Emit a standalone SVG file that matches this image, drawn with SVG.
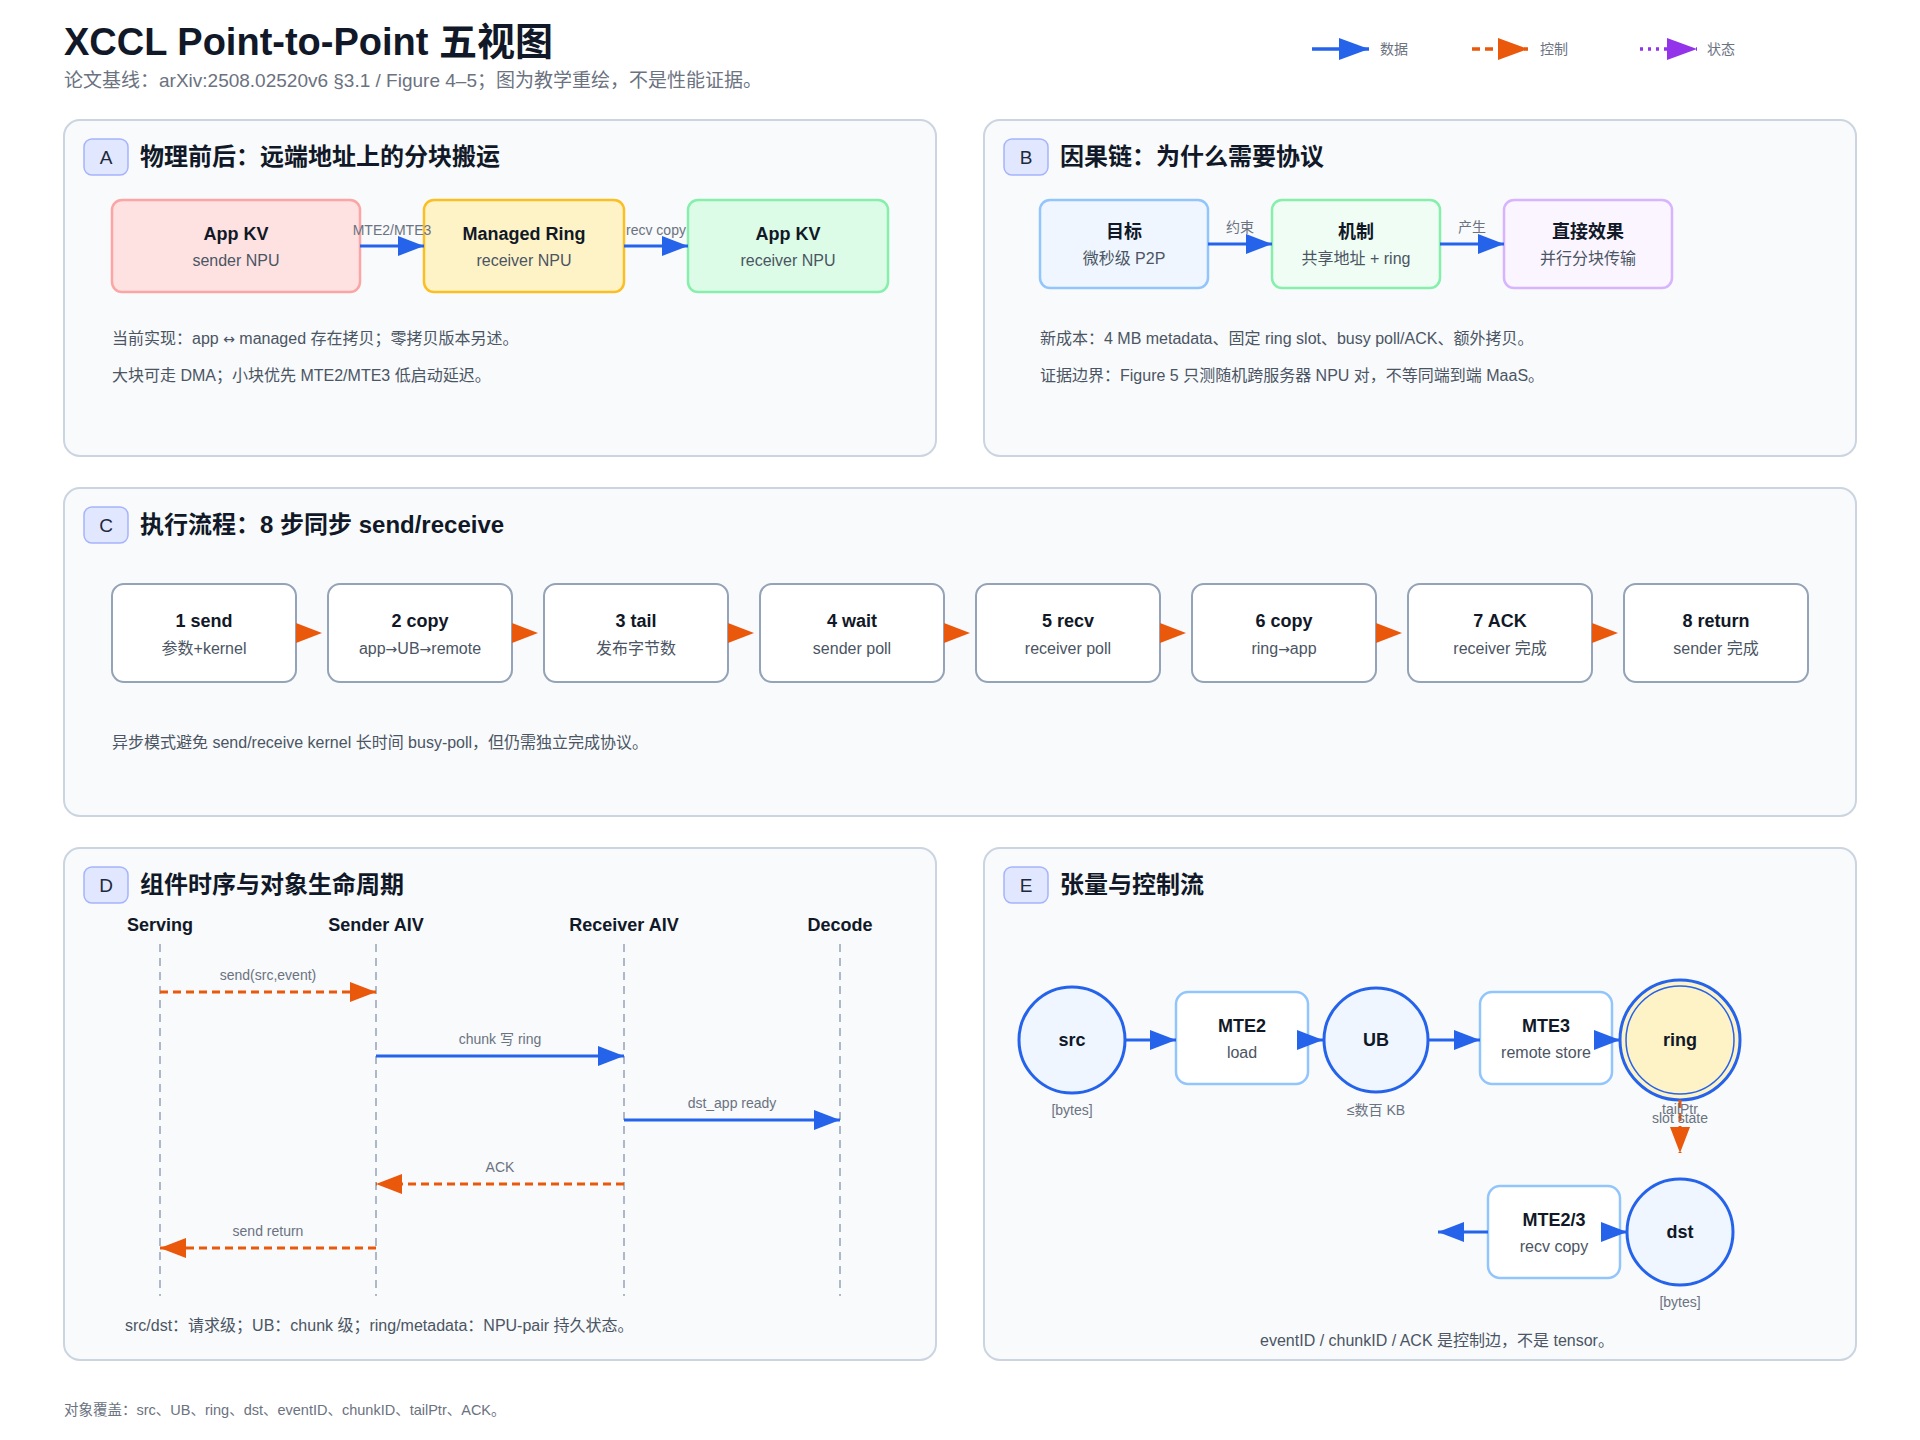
<svg xmlns="http://www.w3.org/2000/svg" width="1920" height="1440" viewBox="0 0 1920 1440">
<style>
text{font-family:'Liberation Sans',Arial,'Noto Sans CJK SC',sans-serif}
.ar{font-family:'DejaVu Sans','Noto Sans CJK SC',sans-serif;font-size:14px}
.h1{font-size:38px;font-weight:700;fill:#111827}
.sub{font-size:19px;fill:#6b7280}
.leg{font-size:14px;fill:#6b7280}
.foot{font-size:14.5px;fill:#6b7280}
.panel{fill:#f8fafc;stroke:#cbd5e1;stroke-width:2}
.badge{fill:#e0e7ff;stroke:#a5b4fc;stroke-width:1.5}
.bt{font-size:19px;fill:#1e293b;text-anchor:middle}
.pt{font-size:24px;font-weight:700;fill:#111827}
.nt{font-size:18px;font-weight:700;fill:#111827;text-anchor:middle}
.ns{font-size:16px;fill:#4b5563;text-anchor:middle}
.note{font-size:16px;fill:#4b5563}
.el{font-size:14px;fill:#6b7280;text-anchor:middle}
.lh{font-size:18px;font-weight:700;fill:#111827;text-anchor:middle}
.data{stroke:#2563eb;stroke-width:3;fill:none;marker-end:url(#ah-b)}
.ctrl{stroke:#ea580c;stroke-width:3;stroke-dasharray:8 5;fill:none;marker-end:url(#ah-o)}
.life{stroke:#94a3b8;stroke-width:1.5;stroke-dasharray:8 6;fill:none}
.step{fill:#ffffff;stroke:#94a3b8;stroke-width:2}
.ebox{fill:#ffffff;stroke:#93c5fd;stroke-width:2.5}
.circ{fill:#eff6ff;stroke:#2563eb;stroke-width:3}
.ct{font-size:18px;font-weight:700;fill:#111827;text-anchor:middle}
</style>
<defs>
<marker id="ah-b" markerUnits="userSpaceOnUse" markerWidth="26" markerHeight="20" viewBox="0 0 26 20" refX="26" refY="10" orient="auto"><path d="M0,0 L26,10 L0,20 Z" fill="#2563eb"/></marker>
<marker id="ah-o" markerUnits="userSpaceOnUse" markerWidth="26" markerHeight="20" viewBox="0 0 26 20" refX="26" refY="10" orient="auto"><path d="M0,0 L26,10 L0,20 Z" fill="#ea580c"/></marker>
<marker id="lg-b" markerUnits="userSpaceOnUse" markerWidth="30" markerHeight="22" viewBox="0 0 30 22" refX="30" refY="11" orient="auto"><path d="M0,0 L30,11 L0,22 Z" fill="#2563eb"/></marker>
<marker id="lg-o" markerUnits="userSpaceOnUse" markerWidth="30" markerHeight="22" viewBox="0 0 30 22" refX="30" refY="11" orient="auto"><path d="M0,0 L30,11 L0,22 Z" fill="#ea580c"/></marker>
<marker id="lg-p" markerUnits="userSpaceOnUse" markerWidth="30" markerHeight="22" viewBox="0 0 30 22" refX="30" refY="11" orient="auto"><path d="M0,0 L30,11 L0,22 Z" fill="#9333ea"/></marker>
</defs>
<rect width="1920" height="1440" fill="#ffffff"/>

<g id="header">
<text class="h1" x="64" y="55">XCCL Point-to-Point 五视图</text>
<text class="sub" x="64" y="87">论文基线：arXiv:2508.02520v6 §3.1 / Figure 4–5；图为教学重绘，不是性能证据。</text>
</g>

<g id="legend">
<line x1="1312" y1="49" x2="1369" y2="49" stroke="#2563eb" stroke-width="3.5" marker-end="url(#lg-b)"/>
<text class="leg" x="1380" y="54">数据</text>
<line x1="1472" y1="49" x2="1528" y2="49" stroke="#ea580c" stroke-width="3.5" stroke-dasharray="8 5" marker-end="url(#lg-o)"/>
<text class="leg" x="1540" y="54">控制</text>
<line x1="1640" y1="49" x2="1697" y2="49" stroke="#9333ea" stroke-width="3.5" stroke-dasharray="3 5" marker-end="url(#lg-p)"/>
<text class="leg" x="1707" y="54">状态</text>
</g>

<g id="panel-A">
<rect class="panel" x="64" y="120" width="872" height="336" rx="16"/>
<rect class="badge" x="84" y="139" width="44" height="36" rx="8"/>
<text class="bt" x="106" y="164">A</text>
<text class="pt" x="140" y="165">物理前后：远端地址上的分块搬运</text>
<text class="note" x="112" y="344">当前实现：app <tspan class="ar">↔</tspan> managed 存在拷贝；零拷贝版本另述。</text>
<text class="note" x="112" y="381">大块可走 DMA；小块优先 MTE2/MTE3 低启动延迟。</text>
</g>
<g id="panel-B">
<rect class="panel" x="984" y="120" width="872" height="336" rx="16"/>
<rect class="badge" x="1004" y="139" width="44" height="36" rx="8"/>
<text class="bt" x="1026" y="164">B</text>
<text class="pt" x="1060" y="165">因果链：为什么需要协议</text>
<text class="note" x="1040" y="344">新成本：4 MB metadata、固定 ring slot、busy poll/ACK、额外拷贝。</text>
<text class="note" x="1040" y="381">证据边界：Figure 5 只测随机跨服务器 NPU 对，不等同端到端 MaaS。</text>
</g>
<g id="panel-C">
<rect class="panel" x="64" y="488" width="1792" height="328" rx="16"/>
<rect class="badge" x="84" y="507" width="44" height="36" rx="8"/>
<text class="bt" x="106" y="532">C</text>
<text class="pt" x="140" y="533">执行流程：8 步同步 send/receive</text>
<text class="note" x="112" y="748">异步模式避免 send/receive kernel 长时间 busy-poll，但仍需独立完成协议。</text>
</g>
<g id="panel-D">
<rect class="panel" x="64" y="848" width="872" height="512" rx="16"/>
<rect class="badge" x="84" y="867" width="44" height="36" rx="8"/>
<text class="bt" x="106" y="892">D</text>
<text class="pt" x="140" y="893">组件时序与对象生命周期</text>
<text class="note" x="125" y="1331">src/dst：请求级；UB：chunk 级；ring/metadata：NPU-pair 持久状态。</text>
</g>
<g id="panel-E">
<rect class="panel" x="984" y="848" width="872" height="512" rx="16"/>
<rect class="badge" x="1004" y="867" width="44" height="36" rx="8"/>
<text class="bt" x="1026" y="892">E</text>
<text class="pt" x="1060" y="893">张量与控制流</text>
<text class="note" x="1437" y="1346" text-anchor="middle">eventID / chunkID / ACK 是控制边，不是 tensor。</text>
</g>

<g id="a-appkv-send">
<rect x="112" y="200" width="248" height="92" rx="10" fill="#fee2e2" stroke="#fca5a5" stroke-width="2.5"/>
<text class="nt" x="236" y="240">App KV</text>
<text class="ns" x="236" y="266">sender NPU</text>
</g>
<g id="a-ring">
<rect x="424" y="200" width="200" height="92" rx="10" fill="#fef3c7" stroke="#fbbf24" stroke-width="2.5"/>
<text class="nt" x="524" y="240">Managed Ring</text>
<text class="ns" x="524" y="266">receiver NPU</text>
</g>
<g id="a-appkv-recv">
<rect x="688" y="200" width="200" height="92" rx="10" fill="#dcfce7" stroke="#86efac" stroke-width="2.5"/>
<text class="nt" x="788" y="240">App KV</text>
<text class="ns" x="788" y="266">receiver NPU</text>
</g>

<g id="b-goal">
<rect x="1040" y="200" width="168" height="88" rx="10" fill="#eff6ff" stroke="#93c5fd" stroke-width="2.5"/>
<text class="nt" x="1124" y="238">目标</text>
<text class="ns" x="1124" y="264">微秒级 P2P</text>
</g>
<g id="b-mech">
<rect x="1272" y="200" width="168" height="88" rx="10" fill="#f0fdf4" stroke="#86efac" stroke-width="2.5"/>
<text class="nt" x="1356" y="238">机制</text>
<text class="ns" x="1356" y="264">共享地址 + ring</text>
</g>
<g id="b-effect">
<rect x="1504" y="200" width="168" height="88" rx="10" fill="#faf5ff" stroke="#d8b4fe" stroke-width="2.5"/>
<text class="nt" x="1588" y="238">直接效果</text>
<text class="ns" x="1588" y="264">并行分块传输</text>
</g>

<g id="c-s1"><rect class="step" x="112" y="584" width="184" height="98" rx="12"/><text class="nt" x="204" y="627">1 send</text><text class="ns" x="204" y="654">参数+kernel</text></g>
<g id="c-s2"><rect class="step" x="328" y="584" width="184" height="98" rx="12"/><text class="nt" x="420" y="627">2 copy</text><text class="ns" x="420" y="654">app<tspan class="ar">→</tspan>UB<tspan class="ar">→</tspan>remote</text></g>
<g id="c-s3"><rect class="step" x="544" y="584" width="184" height="98" rx="12"/><text class="nt" x="636" y="627">3 tail</text><text class="ns" x="636" y="654">发布字节数</text></g>
<g id="c-s4"><rect class="step" x="760" y="584" width="184" height="98" rx="12"/><text class="nt" x="852" y="627">4 wait</text><text class="ns" x="852" y="654">sender poll</text></g>
<g id="c-s5"><rect class="step" x="976" y="584" width="184" height="98" rx="12"/><text class="nt" x="1068" y="627">5 recv</text><text class="ns" x="1068" y="654">receiver poll</text></g>
<g id="c-s6"><rect class="step" x="1192" y="584" width="184" height="98" rx="12"/><text class="nt" x="1284" y="627">6 copy</text><text class="ns" x="1284" y="654">ring<tspan class="ar">→</tspan>app</text></g>
<g id="c-s7"><rect class="step" x="1408" y="584" width="184" height="98" rx="12"/><text class="nt" x="1500" y="627">7 ACK</text><text class="ns" x="1500" y="654">receiver 完成</text></g>
<g id="c-s8"><rect class="step" x="1624" y="584" width="184" height="98" rx="12"/><text class="nt" x="1716" y="627">8 return</text><text class="ns" x="1716" y="654">sender 完成</text></g>

<g id="d-serving"><text class="lh" x="160" y="931">Serving</text><line class="life" x1="160" y1="944" x2="160" y2="1296"/></g>
<g id="d-sender"><text class="lh" x="376" y="931">Sender AIV</text><line class="life" x1="376" y1="944" x2="376" y2="1296"/></g>
<g id="d-receiver"><text class="lh" x="624" y="931">Receiver AIV</text><line class="life" x1="624" y1="944" x2="624" y2="1296"/></g>
<g id="d-decode"><text class="lh" x="840" y="931">Decode</text><line class="life" x1="840" y1="944" x2="840" y2="1296"/></g>

<g id="e-src"><circle class="circ" cx="1072" cy="1040" r="53"/><text class="ct" x="1072" y="1046">src</text><text class="el" x="1072" y="1115">[bytes]</text></g>
<g id="e-mte2"><rect class="ebox" x="1176" y="992" width="132" height="92" rx="12"/><text class="nt" x="1242" y="1032">MTE2</text><text class="ns" x="1242" y="1058">load</text></g>
<g id="e-ub"><circle class="circ" cx="1376" cy="1040" r="52"/><text class="ct" x="1376" y="1046">UB</text><text class="el" x="1376" y="1115">≤数百 KB</text></g>
<g id="e-mte3"><rect class="ebox" x="1480" y="992" width="132" height="92" rx="12"/><text class="nt" x="1546" y="1032">MTE3</text><text class="ns" x="1546" y="1058">remote store</text></g>
<g id="e-ring"><circle cx="1680" cy="1040" r="60" fill="#fef3c7" stroke="#2563eb" stroke-width="3"/><circle cx="1680" cy="1040" r="54" fill="none" stroke="#2563eb" stroke-width="1.5"/><text class="ct" x="1680" y="1046">ring</text></g>
<g id="e-mte23"><rect class="ebox" x="1488" y="1186" width="132" height="92" rx="12"/><text class="nt" x="1554" y="1226">MTE2/3</text><text class="ns" x="1554" y="1252">recv copy</text></g>
<g id="e-dst"><circle class="circ" cx="1680" cy="1232" r="53"/><text class="ct" x="1680" y="1238">dst</text><text class="el" x="1680" y="1307">[bytes]</text></g>

<g id="connectors">
<line class="data" x1="360" y1="246" x2="424" y2="246"/>
<text class="el" x="392" y="235">MTE2/MTE3</text>
<line class="data" x1="624" y1="246" x2="688" y2="246"/>
<text class="el" x="656" y="235">recv copy</text>

<line class="data" x1="1208" y1="244" x2="1272" y2="244"/>
<text class="el" x="1240" y="232">约束</text>
<line class="data" x1="1440" y1="244" x2="1504" y2="244"/>
<text class="el" x="1472" y="232">产生</text>

<line class="ctrl" x1="296" y1="633" x2="322" y2="633"/>
<line class="ctrl" x1="512" y1="633" x2="538" y2="633"/>
<line class="ctrl" x1="728" y1="633" x2="754" y2="633"/>
<line class="ctrl" x1="944" y1="633" x2="970" y2="633"/>
<line class="ctrl" x1="1160" y1="633" x2="1186" y2="633"/>
<line class="ctrl" x1="1376" y1="633" x2="1402" y2="633"/>
<line class="ctrl" x1="1592" y1="633" x2="1618" y2="633"/>

<line class="ctrl" x1="160" y1="992" x2="376" y2="992"/>
<text class="el" x="268" y="980">send(src,event)</text>
<line class="data" x1="376" y1="1056" x2="624" y2="1056"/>
<text class="el" x="500" y="1044">chunk 写 ring</text>
<line class="data" x1="624" y1="1120" x2="840" y2="1120"/>
<text class="el" x="732" y="1108">dst_app ready</text>
<line class="ctrl" x1="624" y1="1184" x2="376" y2="1184"/>
<text class="el" x="500" y="1172">ACK</text>
<line class="ctrl" x1="376" y1="1248" x2="160" y2="1248"/>
<text class="el" x="268" y="1236">send return</text>

<line class="data" x1="1125" y1="1040" x2="1176" y2="1040"/>
<line class="data" x1="1308" y1="1040" x2="1323" y2="1040"/>
<line class="data" x1="1428" y1="1040" x2="1480" y2="1040"/>
<line class="data" x1="1612" y1="1040" x2="1620" y2="1040"/>
<line class="ctrl" x1="1680" y1="1100" x2="1680" y2="1153"/>
<text class="el" x="1680" y="1114">tailPtr</text>
<text class="el" x="1680" y="1123">slot state</text>
<line class="data" x1="1620" y1="1232" x2="1627" y2="1232"/>
<line class="data" x1="1488" y1="1232" x2="1438" y2="1232"/>
</g>

<g id="footer">
<text class="foot" x="64" y="1415">对象覆盖：src、UB、ring、dst、eventID、chunkID、tailPtr、ACK。</text>
</g>
</svg>
